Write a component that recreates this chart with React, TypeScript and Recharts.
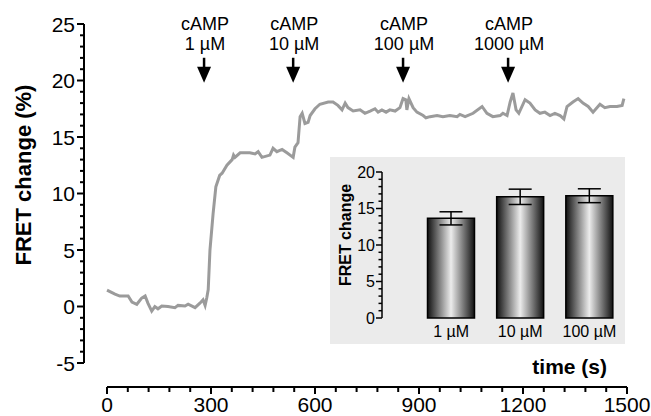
import React from 'react';
import {
  LineChart,
  Line,
  XAxis,
  YAxis,
  ReferenceDot,
  BarChart,
  Bar,
  ErrorBar,
} from 'recharts';

// FRET trace
const traceTime = [
  0, 23, 37, 61, 72, 86, 100, 110, 118, 129, 138, 147, 158, 176, 196, 205, 225, 234, 254, 268,
  277, 283, 288, 292, 297, 306, 314, 325, 332, 346, 361, 365, 369, 384, 412, 427, 436, 447, 470, 479,
  490, 505, 519, 537, 542, 551, 557, 563, 571, 580, 586, 600, 614, 638, 652, 666, 678, 687, 695, 710,
  730, 744, 759, 773, 782, 793, 805, 816, 831, 845, 854, 862, 865, 871, 883, 894, 912, 920, 932, 952,
  969, 989, 1010, 1018, 1033, 1056, 1082, 1096, 1113, 1134, 1142, 1154, 1163, 1171, 1180, 1188, 1206, 1220, 1235, 1249,
  1263, 1278, 1292, 1307, 1318, 1327, 1344, 1359, 1373, 1388, 1402, 1422, 1436, 1451, 1471, 1486, 1491,
];
const traceFret = [
  1.45, 1.1, 0.93, 0.93, 0.4, 0.2, 0.75, 0.93, 0.3, -0.4, 0, -0.2, 0.05, 0, -0.1, 0.1, 0.05, 0.2, -0.1, 0.3,
  0.6, 0.1, 0.8, 1.5, 5.0, 8.2, 10.6, 11.6, 11.8, 12.5, 13.0, 13.4, 13.2, 13.6, 13.6, 13.5, 13.7, 13.2, 13.4, 14.0,
  13.7, 13.9, 13.6, 13.2, 14.1, 14.5, 16.8, 17.1, 16.2, 16.3, 16.9, 17.5, 17.9, 18.1, 18.1, 17.8, 17.4, 18.0, 17.6, 17.3,
  17.4, 17.1, 17.3, 17.5, 17.2, 17.4, 17.2, 17.4, 17.3, 17.6, 18.4, 18.3, 17.4, 18.4, 17.6, 17.2, 16.9, 16.7, 16.8, 16.9,
  16.8, 16.9, 16.8, 17.0, 16.8, 17.1, 17.7, 17.1, 16.8, 16.9, 17.1, 16.9, 18.1, 18.9, 17.4, 17.1, 18.3, 18.0, 17.4, 17.1,
  17.2, 16.9, 17.1, 16.9, 16.6, 17.7, 18.1, 18.4, 18.0, 17.7, 17.2, 17.9, 17.6, 17.7, 17.7, 17.8, 18.4,
];

// cAMP additions (arrows)
const doseTime = [280, 537, 854, 1157];
const doseLabel = ['1 µM', '10 µM', '100 µM', '1000 µM'];
const arrowTipValue = 19.8;

// axis ticks
const xTicks = Array.from({ length: 26 }, (_, i) => i * 60);
const xLabelTicks = [0, 300, 600, 900, 1200, 1500];
const yTicks = Array.from({ length: 31 }, (_, i) => i - 5);
// the x axis sits ~24px below the -5 end of the y axis (11.3 px per unit)
const yPlotDomain = [-7.12, 25];

// inset bar chart
const insetCategories = ['1 µM', '10 µM', '100 µM'];
const insetMeans = [13.65, 16.6, 16.75];
const insetErrors = [0.9, 1.05, 0.95];
const insetTicks = Array.from({ length: 21 }, (_, i) => i);

const FONT = "'Liberation Sans', Arial, sans-serif";

const traceData = traceTime.map((t, i) => ({ t, fret: traceFret[i] }));
const insetData = insetCategories.map((name, i) => ({ name, mean: insetMeans[i], err: insetErrors[i] }));

const MainYTick = (props: any) => {
  const { x, y, payload } = props;
  const major = payload.value % 5 === 0;
  return (
    <g>
      <line x1={x} x2={x - (major ? 7 : 4)} y1={y} y2={y} stroke="#000" strokeWidth={2} />
      {major && (
        <text x={x - 9} y={y} dy="0.36em" textAnchor="end" fontSize={21} fontFamily={FONT} fill="#000">
          {payload.value}
        </text>
      )}
    </g>
  );
};

const MainXTick = (props: any) => {
  const { x, y, payload } = props;
  const major = xLabelTicks.includes(payload.value);
  return (
    <g>
      <line x1={x} x2={x} y1={y} y2={y + (major ? 7 : 5)} stroke="#000" strokeWidth={2} />
      {major && (
        <text x={x} y={y + 25} textAnchor="middle" fontSize={21} fontFamily={FONT} fill="#000">
          {payload.value}
        </text>
      )}
    </g>
  );
};

const InsetYTick = (props: any) => {
  const { x, y, payload } = props;
  const major = payload.value % 5 === 0;
  return (
    <g>
      <line x1={x} x2={x - (major ? 6 : 3.5)} y1={y} y2={y} stroke="#000" strokeWidth={1.5} />
      {major && (
        <text x={x - 7} y={y} dy="0.36em" textAnchor="end" fontSize={16} fontFamily={FONT} fill="#000">
          {payload.value}
        </text>
      )}
    </g>
  );
};

const InsetXTick = (props: any) => {
  const { x, y, payload } = props;
  return (
    <text x={x} y={y + 19} textAnchor="middle" fontSize={16} fontFamily={FONT} fill="#000">
      {payload.value}
    </text>
  );
};

const makeArrow = (label: string) => (props: any) => {
  const { cx, cy } = props;
  return (
    <g>
      <text x={cx + 1} y={cy - 53} textAnchor="middle" fontSize={18} fontFamily={FONT} fill="#000">
        cAMP
      </text>
      <text x={cx + 1} y={cy - 33} textAnchor="middle" fontSize={18} fontFamily={FONT} fill="#000">
        {label}
      </text>
      <line x1={cx} x2={cx} y1={cy - 25} y2={cy - 12} stroke="#000" strokeWidth={2.5} />
      <path d={`M${cx - 7},${cy - 16} L${cx + 7},${cy - 16} L${cx},${cy} Z`} fill="#000" />
    </g>
  );
};

const layer = { position: 'absolute' as const, left: 0, top: 0 };

export default function App() {
  return (
    <div style={{ position: 'absolute', left: 0, top: 0, width: 651, height: 416, background: '#fff' }}>
      {/* offset y axis (drawn first, underneath) */}
      <div style={layer}>
        <LineChart width={651} height={416} data={traceData} margin={{ top: 24, right: 24, bottom: 53, left: 0 }}>
          <XAxis dataKey="t" type="number" domain={[0, 1500]} hide />
          <YAxis
            type="number"
            domain={[-5, 25]}
            ticks={yTicks}
            interval={0}
            width={84}
            tickSize={0}
            tickMargin={0}
            tickLine={false}
            tick={<MainYTick />}
            axisLine={{ stroke: '#000', strokeWidth: 2 }}
            label={() => (
              <text
                x={31}
                y={175}
                transform="rotate(-90 31 175)"
                textAnchor="middle"
                fontSize={22}
                fontWeight="bold"
                fontFamily={FONT}
                fill="#000"
              >
                FRET change (%)
              </text>
            )}
          />
          <Line type="linear" dataKey="fret" stroke="transparent" dot={false} isAnimationActive={false} />
        </LineChart>
      </div>

      {/* trace + offset x axis */}
      <div style={layer}>
        <LineChart width={651} height={416} data={traceData} margin={{ top: 24, right: 24, bottom: 0, left: 107 }}>
          <XAxis
            dataKey="t"
            type="number"
            domain={[0, 1500]}
            ticks={xTicks}
            interval={0}
            tickSize={0}
            tickMargin={0}
            tickLine={false}
            tick={<MainXTick />}
            height={29}
            axisLine={{ stroke: '#000', strokeWidth: 2 }}
            label={() => (
              <text x={607} y={374} textAnchor="end" fontSize={21} fontWeight="bold" fontFamily={FONT} fill="#000">
                time (s)
              </text>
            )}
          />
          <YAxis type="number" domain={yPlotDomain} allowDataOverflow hide />
          <Line
            type="linear"
            dataKey="fret"
            stroke="#9b9b9b"
            strokeWidth={3}
            dot={false}
            isAnimationActive={false}
          />
          {doseTime.map((t, i) => (
            <ReferenceDot key={t} x={t} y={arrowTipValue} r={0} shape={makeArrow(doseLabel[i])} />
          ))}
        </LineChart>
      </div>

      {/* inset */}
      <div style={{ position: 'absolute', left: 330, top: 157, width: 295, height: 187, background: '#ebebeb' }}>
        <BarChart width={295} height={187} data={insetData} margin={{ top: 15, right: 1, bottom: 0, left: 0 }}>
          <defs>
            <linearGradient id="barGrad" x1="0" y1="0" x2="1" y2="0">
              <stop offset="0%" stopColor="#111" />
              <stop offset="50%" stopColor="#ececec" />
              <stop offset="100%" stopColor="#111" />
            </linearGradient>
          </defs>
          <XAxis
            dataKey="name"
            padding={{ left: 34.5, right: 0 }}
            axisLine={false}
            tickLine={false}
            tickSize={0}
            tickMargin={0}
            interval={0}
            height={26}
            tick={<InsetXTick />}
          />
          <YAxis
            type="number"
            domain={[0, 20]}
            ticks={insetTicks}
            interval={0}
            width={52}
            tickSize={0}
            tickMargin={0}
            tickLine={false}
            tick={<InsetYTick />}
            axisLine={{ stroke: '#000', strokeWidth: 1.5 }}
            label={() => (
              <text
                x={21}
                y={78}
                transform="rotate(-90 21 78)"
                textAnchor="middle"
                fontSize={16}
                fontWeight="bold"
                fontFamily={FONT}
                fill="#000"
              >
                FRET change
              </text>
            )}
          />
          <Bar dataKey="mean" barSize={47} fill="url(#barGrad)" stroke="#000" strokeWidth={1.5} isAnimationActive={false}>
            <ErrorBar dataKey="err" width={11.5} stroke="#000" strokeWidth={1.5} direction="y" />
          </Bar>
        </BarChart>
      </div>
    </div>
  );
}
